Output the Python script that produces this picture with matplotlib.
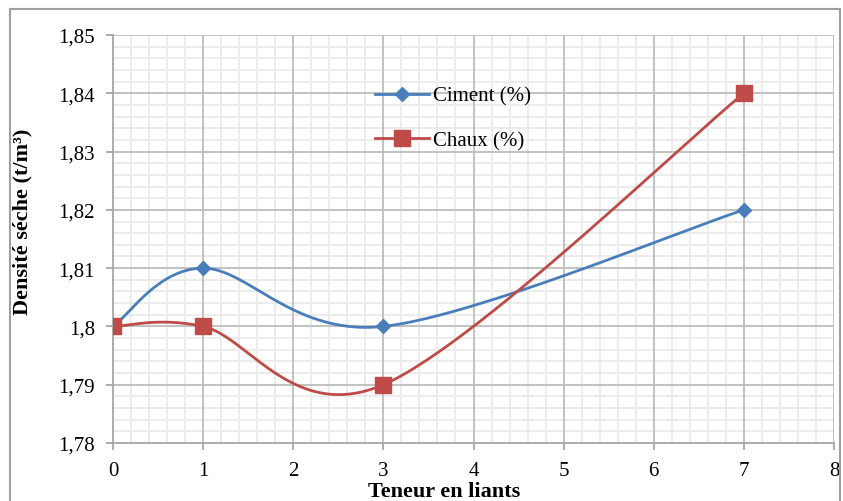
import numpy as np
import matplotlib
matplotlib.use("Agg")
import matplotlib.pyplot as plt
from matplotlib.lines import Line2D
from matplotlib.patches import Rectangle
from matplotlib.ticker import MultipleLocator, FuncFormatter

plt.rcParams['font.family'] = ['Liberation Serif', 'DejaVu Serif']

# Data
x_ciment = [0, 1, 3, 7]
y_ciment = [1.80, 1.81, 1.80, 1.82]
x_chaux = [0, 1, 3, 7]
y_chaux = [1.80, 1.80, 1.79, 1.84]

blue = '#4A7EBB'
red = '#BE4B48'


def smooth_curve(xs, ys, n=60):
    """Excel-like smoothed line: cubic Bezier with Catmull-Rom control points."""
    p = np.column_stack([xs, ys]).astype(float)
    ext = np.vstack([p[0], p, p[-1]])
    out = []
    for i in range(len(p) - 1):
        p0, p1, p2, p3 = ext[i], ext[i + 1], ext[i + 2], ext[i + 3]
        c1 = p1 + (p2 - p0) / 6.0
        c2 = p2 - (p3 - p1) / 6.0
        t = np.linspace(0, 1, n)[:, None]
        seg = ((1 - t) ** 3) * p1 + 3 * ((1 - t) ** 2) * t * c1 + 3 * (1 - t) * t ** 2 * c2 + t ** 3 * p2
        out.append(seg if i == 0 else seg[1:])
    out = np.vstack(out)
    return out[:, 0], out[:, 1]


fig = plt.figure(figsize=(8.43, 5.02), dpi=100)
ax = fig.add_axes([113 / 843, 1 - 444 / 502, (834 - 113) / 843, (444 - 36) / 502])

cx, cy = smooth_curve(x_ciment, y_ciment)
ax.plot(cx, cy, color=blue, lw=2, zorder=3)
ax.plot(x_ciment, y_ciment, 'D', color=blue, ms=7.5, zorder=4)

hx, hy = smooth_curve(x_chaux, y_chaux)
ax.plot(hx, hy, color=red, lw=2, zorder=3)
ax.plot(x_chaux, y_chaux, 's', color=red, ms=11, zorder=4)

ax.set_xlim(0, 8)
ax.set_ylim(1.78, 1.85)
ax.xaxis.set_major_locator(MultipleLocator(1))
ax.xaxis.set_minor_locator(MultipleLocator(0.2))
ax.yaxis.set_major_locator(MultipleLocator(0.01))
ax.yaxis.set_minor_locator(MultipleLocator(0.002))
ax.yaxis.set_major_formatter(FuncFormatter(lambda v, _: ('%g' % round(v, 2)).replace('.', ',')))

# minor grid below, major grid drawn on top of it
ax.grid(which='minor', color='#EBEBEB', lw=1.3, zorder=0.5)
ax.set_axisbelow(True)
for xv in ax.get_xticks():
    if 0 < xv <= 8:
        ax.axvline(xv, color='#BDBDBD', lw=1.3, zorder=1)
for yv in ax.get_yticks():
    if 1.78 < yv <= 1.85 + 1e-9:
        ax.axhline(yv, color='#BDBDBD', lw=1.3, zorder=1)

for s in ['top', 'right']:
    ax.spines[s].set_visible(False)
for s in ['left', 'bottom']:
    ax.spines[s].set_color('#A6A6A6')
    ax.spines[s].set_linewidth(1.3)
ax.tick_params(which='major', direction='out', length=5, color='#A6A6A6', width=1.3,
               labelsize=15, pad=8)
ax.tick_params(which='minor', length=0)

ax.set_ylabel('Densité séche (t/m³)', fontsize=16, fontweight='bold')
ax.yaxis.set_label_coords(-0.112, 0.545)
ax.set_xlabel('Teneur en liants', fontsize=16, fontweight='bold')
ax.xaxis.set_label_coords(0.459, -0.093)

handles = [
    Line2D([], [], color=blue, lw=2, marker='D', ms=7.5),
    Line2D([], [], color=red, lw=2, marker='s', ms=11),
]
ax.legend(handles, ['Ciment (%)', 'Chaux (%)'], loc='upper left',
          bbox_to_anchor=(2.70 / 8, 0.92), frameon=False, fontsize=15,
          handlelength=2.6, handletextpad=0.2, labelspacing=1.2)

fig.patches.append(Rectangle((10 / 843, -0.02), 830 / 843, 1 - 10 / 502 + 0.02,
                             transform=fig.transFigure, fill=False,
                             edgecolor='#A0A0A0', lw=1.5))

fig.savefig('out.png', dpi=100)
